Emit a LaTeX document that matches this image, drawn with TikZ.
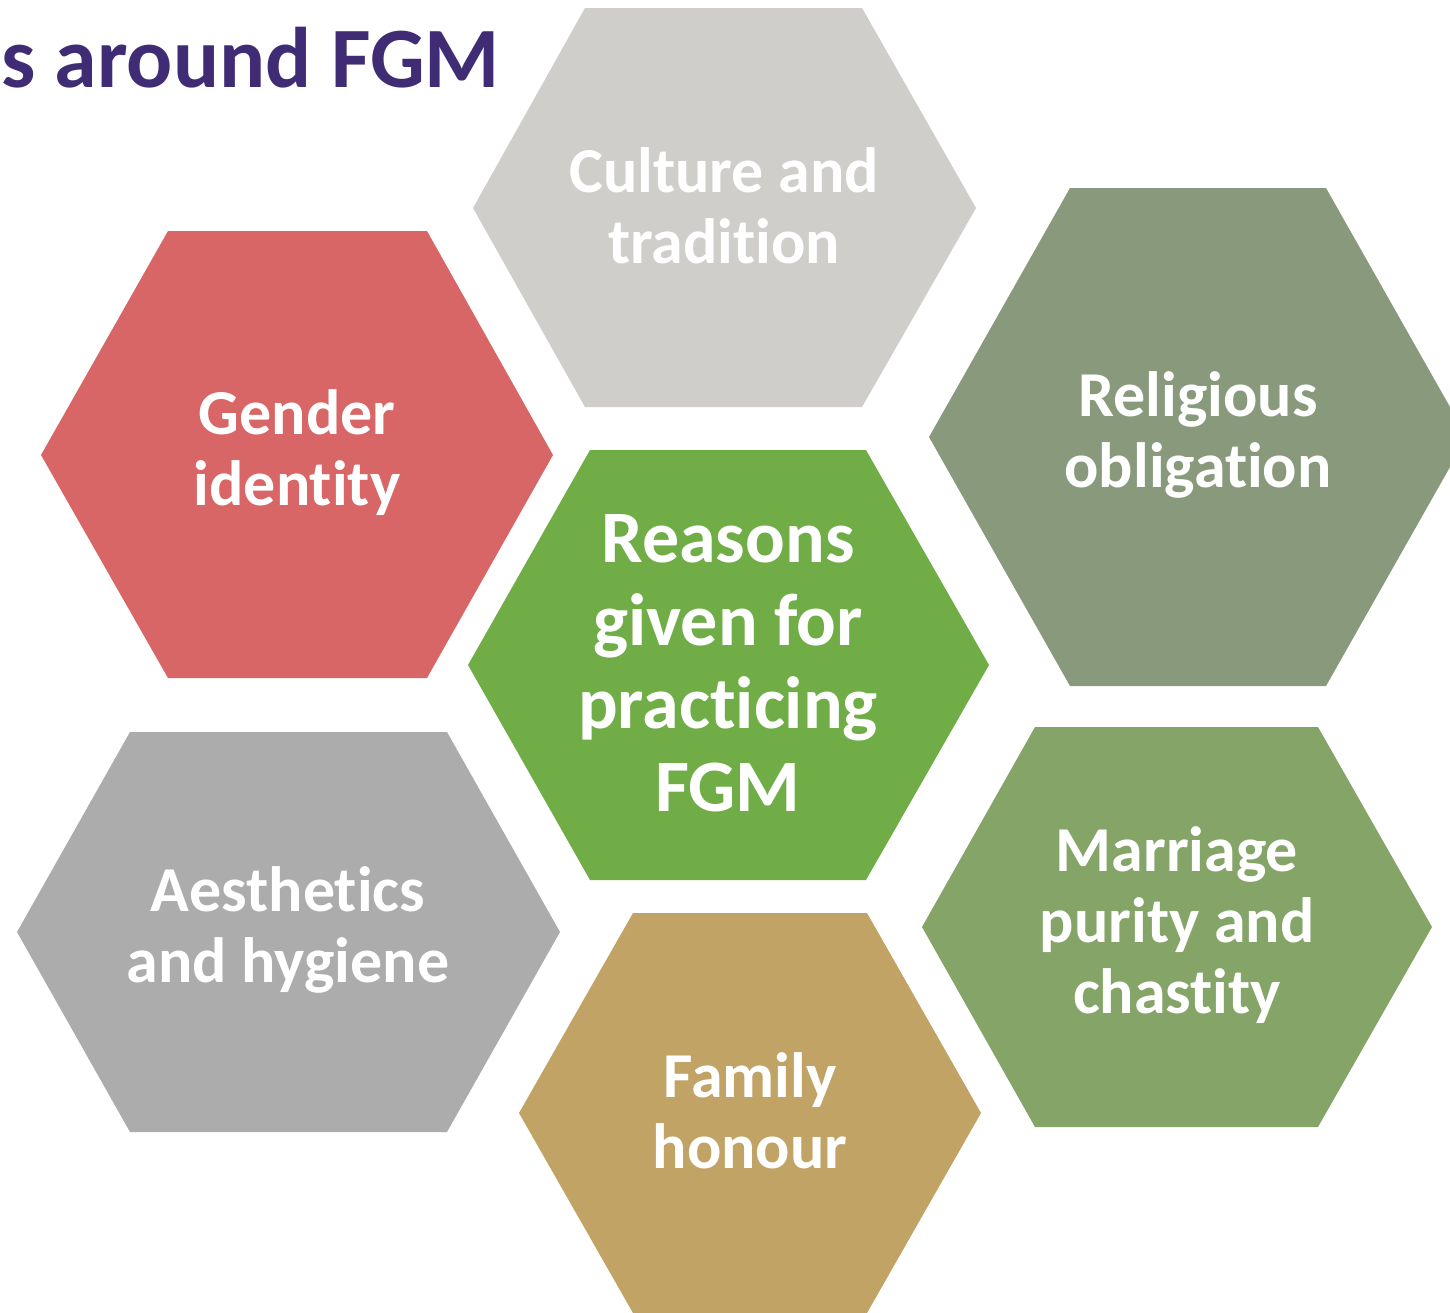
\documentclass[tikz,border=0pt]{standalone}
\usepackage{fontspec}
\setmainfont{Carlito}[Ligatures=NoCommon]

\definecolor{titlepurple}{RGB}{64,44,116}
\definecolor{culturegray}{RGB}{207,206,203}
\definecolor{religiongreen}{RGB}{136,154,123}
\definecolor{genderred}{RGB}{217,102,102}
\definecolor{centregreen}{RGB}{112,173,71}
\definecolor{aestheticgray}{RGB}{172,172,172}
\definecolor{familygold}{RGB}{193,163,102}
\definecolor{marriagegreen}{RGB}{132,164,104}

% left x, top-left x, top-right x, right x, top y, middle y, bottom y, colour
\newcommand{\hexfill}[8]{\fill[#8] (#1,#6) -- (#2,#5) -- (#3,#5) -- (#4,#6) -- (#3,#7) -- (#2,#7) -- cycle;}

\begin{document}
\begin{tikzpicture}[x=1pt,y=-1pt,
    hexlabel/.style={text=white,align=center,font=\bfseries\fontsize{64}{71}\selectfont},
    hexbig/.style={text=white,align=center,font=\bfseries\fontsize{74}{83}\selectfont}]
                    \clip (0,0) rectangle (1450,1312);
                    \fill[white] (0,0) rectangle (1450,1312);

                    \hexfill{473}{585}{862}{976}{8}{208}{407}{culturegray}
                    \hexfill{41}{168}{427}{553}{231}{455}{678}{genderred}
                    \hexfill{929}{1070}{1326}{1467}{188}{437}{686}{religiongreen}
                    \hexfill{468}{590}{866}{989}{450}{665}{880}{centregreen}
                    \hexfill{17}{130}{447}{560}{732}{932}{1132}{aestheticgray}
                    \hexfill{922}{1035}{1318}{1432}{727}{927}{1127}{marriagegreen}
                    \hexfill{519}{633}{867}{981}{913}{1113}{1313}{familygold}

                    \path
                    (1,87) node[anchor=base west,inner sep=0pt,text=titlepurple,font=\bfseries\fontsize{86}{100}\selectfont](title) {s around FGM}
                    (724,206) node[hexlabel](culture) {Culture and\\tradition}
                    (297,453) node[hexlabel](gender) {Gender\\identity}
                    (1198,435) node[hexlabel](religion) {Religious\\obligation}
                    (728,663) node[hexbig](reasons) {Reasons\\given for\\practicing\\FGM}
                    (288,930) node[hexlabel](aesthetics) {Aesthetics\\and hygiene}
                    (1177,925) node[hexlabel](marriage) {Marriage\\purity and\\chastity}
                    (750,1111) node[hexlabel](family) {Family\\honour};
                \end{tikzpicture}
\end{document}
